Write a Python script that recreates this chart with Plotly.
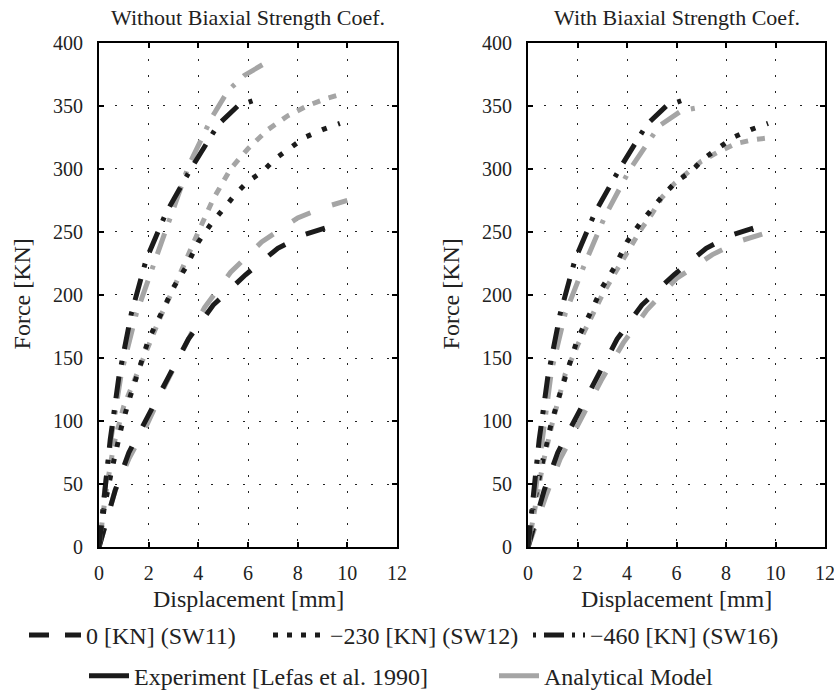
import plotly.graph_objects as go

# experiment (Lefas et al. 1990) - same in both panels
exp_sw11_x = [0, 0.3, 0.65, 1.2, 2.0, 2.8, 3.6, 4.6, 5.9, 7.2, 8.3, 9.1]
exp_sw11_y = [0, 22, 45, 75, 104, 135, 165, 192, 216, 237, 248, 253]
exp_sw12_x = [0, 0.2, 0.5, 0.9, 1.2, 1.6, 2.0, 2.5, 3.0, 3.5, 4.0, 4.5, 5.0, 5.5, 6.0, 6.6, 7.1, 7.7, 8.3, 9.0, 9.7]
exp_sw12_y = [0, 30, 60, 95, 116, 142, 165, 185, 206, 222, 242, 256, 268, 280, 290, 298, 308, 317, 325, 331, 336]
exp_sw16_x = [0, 0.2, 0.45, 0.8, 1.3, 1.9, 2.7, 3.7, 4.8, 5.6, 6.5]
exp_sw16_y = [0, 40, 85, 135, 185, 228, 265, 300, 335, 350, 356]

# analytical model, without biaxial strength coef.
wo_sw11_x = [0, 0.3, 0.65, 1.2, 1.95, 2.7, 3.45, 4.25, 5.3, 6.55, 8.0, 9.0, 10.0]
wo_sw11_y = [0, 22, 45, 70, 98, 130, 160, 190, 218, 242, 261, 269, 275]
wo_sw12_x = [0, 0.25, 0.6, 1.0, 1.5, 2.0, 2.5, 3.0, 3.5, 4.0, 4.6, 5.3, 6.0, 6.8, 7.6, 8.4, 9.2, 9.9]
wo_sw12_y = [0, 40, 82, 112, 136, 160, 184, 205, 228, 250, 276, 300, 316, 331, 342, 350, 356, 360]
wo_sw16_x = [0, 0.2, 0.5, 0.9, 1.5, 2.2, 2.9, 3.6, 4.55, 5.2, 5.85, 6.4, 6.8]
wo_sw16_y = [0, 40, 88, 138, 185, 225, 264, 302, 341, 362, 374, 381, 385]

# analytical model, with biaxial strength coef.
w_sw11_x = [0, 0.35, 0.75, 1.3, 2.1, 2.95, 3.85, 4.8, 6.0, 7.45, 8.6, 9.6]
w_sw11_y = [0, 20, 42, 70, 100, 132, 162, 188, 213, 232, 243, 249]
w_sw12_x = [0, 0.25, 0.6, 1.0, 1.5, 2.0, 2.5, 3.0, 3.5, 4.0, 4.6, 5.0, 5.4, 5.9, 6.45, 7.0, 7.65, 8.4, 9.1, 9.9]
w_sw12_y = [0, 30, 66, 100, 137, 160, 180, 200, 217, 234, 253, 264, 277, 288, 297, 306, 313, 320, 323, 325]
w_sw16_x = [0, 0.25, 0.55, 0.95, 1.5, 2.3, 3.1, 4.1, 5.3, 6.2, 7.0]
w_sw16_y = [0, 38, 85, 140, 185, 225, 262, 299, 334, 346, 349]

series_names = ['0 [KN] (SW11)', '\u2212230 [KN] (SW12)', '\u2212460 [KN] (SW16)']

BLACK = '#1b1b1b'
GRAY = '#a5a5a5'
TXT = '#222'
FONT = 'Liberation Serif'
dashes_black = ['20px,23px', '5px,12px', '22px,12px,4px,12px']
dashes_gray = ['20px,23px', '8px,9px', '22px,12px,4px,12px']
dashes_legend = ['20px,16px', '5px,9px', '3px,8px,20px,8px']
LW = 5

# body margin is set to 0 in the page, so the figure fills the window
W, H = 834, 699


def px(x):
    return x / W


def py(y):
    return 1 - y / H


fig = go.Figure()

exp_sets = [(exp_sw11_x, exp_sw11_y), (exp_sw12_x, exp_sw12_y), (exp_sw16_x, exp_sw16_y)]
panels = [
    ('x', 'y', [(wo_sw11_x, wo_sw11_y), (wo_sw12_x, wo_sw12_y), (wo_sw16_x, wo_sw16_y)]),
    ('x2', 'y2', [(w_sw11_x, w_sw11_y), (w_sw12_x, w_sw12_y), (w_sw16_x, w_sw16_y)]),
]

for xa, ya, model in panels:
    for i in range(3):
        fig.add_trace(go.Scatter(x=model[i][0], y=model[i][1], mode='lines', xaxis=xa, yaxis=ya,
                                 line=dict(color=GRAY, width=LW, dash=dashes_gray[i]),
                                 showlegend=False, hoverinfo='skip'))
        fig.add_trace(go.Scatter(x=exp_sets[i][0], y=exp_sets[i][1], mode='lines', xaxis=xa, yaxis=ya,
                                 line=dict(color=BLACK, width=LW, dash=dashes_black[i]),
                                 showlegend=False, hoverinfo='skip'))

# legend-only entries, one small legend each so they sit where the reference has them
legend_ids = ['legend', 'legend2', 'legend3', 'legend4', 'legend5']
for i in range(3):
    fig.add_trace(go.Scatter(x=[None], y=[None], mode='lines', name=series_names[i],
                             line=dict(color=BLACK, width=LW, dash=dashes_legend[i]),
                             legend=legend_ids[i]))
fig.add_trace(go.Scatter(x=[None], y=[None], mode='lines', name='Experiment [Lefas et al. 1990]',
                         line=dict(color=BLACK, width=LW), legend='legend4'))
fig.add_trace(go.Scatter(x=[None], y=[None], mode='lines', name='Analytical Model',
                         line=dict(color=GRAY, width=LW), legend='legend5'))

left_dom = [px(99), px(397)]
right_dom = [px(528), px(825)]
y_dom = [py(552), py(43)]

axis_common = dict(showline=True, linecolor='black', linewidth=2, mirror='ticks',
                   ticks='inside', ticklen=5, tickwidth=1.5, tickcolor='black',
                   showgrid=True, gridcolor='#222', gridwidth=1, griddash='2px,14px',
                   zeroline=False, automargin=False, ticklabeloverflow='allow',
                   tickfont=dict(family=FONT, size=20, color=TXT))
xcommon = dict(axis_common, range=[0, 12], tickvals=[0, 2, 4, 6, 8, 10, 12], ticklabelstandoff=7)
ycommon = dict(axis_common, range=[0, 400], tickvals=list(range(0, 401, 50)), ticklabelstandoff=10)

legend_pos = [(24, 641, 52), (268, 641, 52), (528, 641, 52), (84, 682, 40), (494, 682, 40)]
legend_layouts = {}
for lid, (lx, ly, iw) in zip(legend_ids, legend_pos):
    legend_layouts[lid] = dict(orientation='h', x=px(lx), xanchor='left', y=py(ly), yanchor='middle',
                               itemwidth=iw, font=dict(family=FONT, size=24, color=TXT),
                               bgcolor='rgba(0,0,0,0)', borderwidth=0)

fig.update_layout(
    width=W, height=H, template='none',
    margin=dict(l=0, r=0, t=0, b=0),
    paper_bgcolor='white', plot_bgcolor='white',
    font=dict(family=FONT, size=20, color=TXT),
    xaxis=dict(xcommon, domain=left_dom, anchor='y'),
    yaxis=dict(ycommon, domain=y_dom, anchor='x'),
    xaxis2=dict(xcommon, domain=right_dom, anchor='y2'),
    yaxis2=dict(ycommon, domain=y_dom, anchor='x2'),
    **legend_layouts,
)

ann = [
    ('Without Biaxial Strength Coef.', (left_dom[0] + left_dom[1]) / 2, py(18), 0, 22),
    ('With Biaxial Strength Coef.', (right_dom[0] + right_dom[1]) / 2, py(18), 0, 22),
    ('Displacement [mm]', (left_dom[0] + left_dom[1]) / 2, py(604), 0, 24),
    ('Displacement [mm]', (right_dom[0] + right_dom[1]) / 2, py(604), 0, 24),
    ('Force [KN]', px(22), py(297), -90, 24),
    ('Force [KN]', px(451), py(297), -90, 24),
]
for text, x, y, rot, size in ann:
    fig.add_annotation(text=text, x=x, y=y, xref='paper', yref='paper', showarrow=False,
                       textangle=rot, xanchor='center', yanchor='middle',
                       font=dict(family=FONT, size=size, color=TXT))

fig.write_html('out.html', config={'displayModeBar': False},
               post_script="document.body.style.margin='0px';")
